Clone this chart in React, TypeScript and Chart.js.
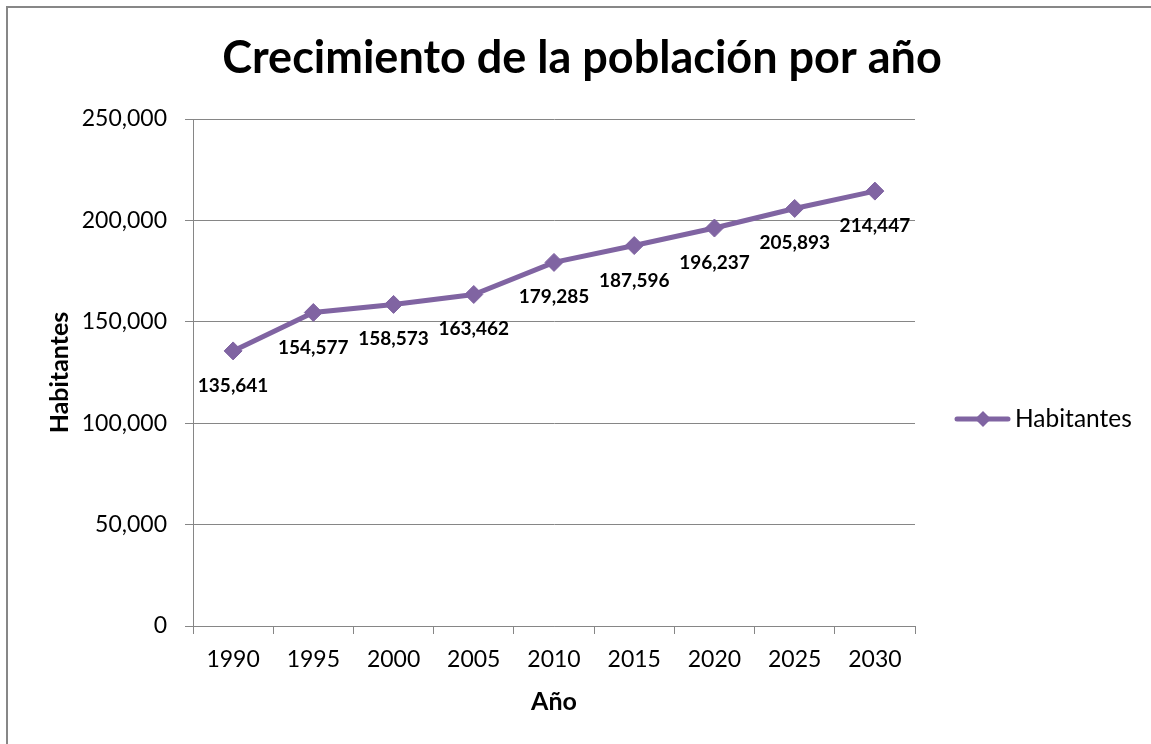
import { useEffect, useRef } from 'react';
import { Chart, registerables } from 'chart.js';

Chart.register(...registerables);

const years = ['1990', '1995', '2000', '2005', '2010', '2015', '2020', '2025', '2030'];
const habitantes = [135641, 154577, 158573, 163462, 179285, 187596, 196237, 205893, 214447];
const yMin = 0;
const yMax = 250000;
const yStep = 50000;

const chartTitle = 'Crecimiento de la población por año';
const xTitle = 'Año';
const yTitle = 'Habitantes';
const seriesName = 'Habitantes';

const PURPLE = '#8064A2';
const GRID = '#868686';
const FONT = 'Lato, Carlito, Calibri, sans-serif';

const fmt = (v: number) => Number(v).toLocaleString('en-US');

const decor = {
  id: 'decor',
  afterDatasetsDraw(chart: any) {
    const ctx = chart.ctx;
    const meta = chart.getDatasetMeta(0);
    ctx.save();
    ctx.font = `bold 19px ${FONT}`;
    ctx.fillStyle = '#000';
    ctx.textAlign = 'center';
    ctx.textBaseline = 'alphabetic';
    meta.data.forEach((pt: any, i: number) => {
      ctx.fillText(fmt(habitantes[i]), pt.x, pt.y + 41);
    });
    ctx.restore();
  },
  afterDraw(chart: any) {
    const ctx = chart.ctx;
    ctx.save();
    // outer border
    ctx.strokeStyle = '#878787';
    ctx.lineWidth = 2;
    ctx.strokeRect(7, 7, 3000, 3000);
    // title
    ctx.fillStyle = '#000';
    ctx.font = `bold 45px ${FONT}`;
    ctx.textAlign = 'center';
    ctx.textBaseline = 'alphabetic';
    ctx.fillText(chartTitle, 582, 73);
    // legend
    const ly = 419;
    ctx.strokeStyle = PURPLE;
    ctx.lineWidth = 5;
    ctx.lineCap = 'round';
    ctx.beginPath();
    ctx.moveTo(957, ly);
    ctx.lineTo(1008, ly);
    ctx.stroke();
    ctx.fillStyle = PURPLE;
    ctx.beginPath();
    ctx.moveTo(983, ly - 8);
    ctx.lineTo(991, ly);
    ctx.lineTo(983, ly + 8);
    ctx.lineTo(975, ly);
    ctx.closePath();
    ctx.fill();
    ctx.fillStyle = '#000';
    ctx.font = `24.5px ${FONT}`;
    ctx.textAlign = 'left';
    ctx.fillText(seriesName, 1015, 427);
    ctx.restore();
  },
};

export default function App() {
  const ref = useRef<HTMLCanvasElement>(null);

  useEffect(() => {
    if (!ref.current) return;
    const chart = new Chart(ref.current, {
      type: 'line',
      data: {
        labels: years,
        datasets: [
          {
            label: seriesName,
            data: habitantes,
            borderColor: PURPLE,
            backgroundColor: PURPLE,
            borderWidth: 5,
            pointStyle: 'rectRot',
            pointRadius: 9,
            pointBackgroundColor: PURPLE,
            pointBorderColor: PURPLE,
            pointBorderWidth: 1,
            tension: 0,
            clip: false as any,
          },
        ],
      },
      options: {
        responsive: false,
        animation: false,
        layout: { padding: { top: 119, right: 236, bottom: 0, left: 0 } },
        plugins: {
          legend: { display: false },
          title: { display: false },
          tooltip: { enabled: false },
        },
        scales: {
          x: {
            type: 'category',
            offset: true,
            grid: {
              offset: true,
              drawOnChartArea: false,
              drawTicks: true,
              tickLength: 8,
              color: GRID,
              lineWidth: 1,
            },
            border: { display: true, color: GRID, width: 1 },
            ticks: {
              color: '#000',
              font: { size: 23, family: FONT },
              padding: 12,
              maxRotation: 0,
              autoSkip: false,
            },
            title: {
              display: true,
              text: xTitle,
              color: '#000',
              font: { size: 25, weight: 'bold', family: FONT },
              padding: { top: 0, bottom: 27 },
            },
            afterFit: (s: any) => {
              s.height = 118;
            },
          },
          y: {
            min: yMin,
            max: yMax,
            grid: {
              color: GRID,
              lineWidth: 1,
              drawTicks: true,
              tickLength: 8,
            },
            border: { display: true, color: GRID, width: 1 },
            ticks: {
              stepSize: yStep,
              color: '#000',
              font: { size: 23, family: FONT },
              padding: 18,
              callback: (v: any) => fmt(v),
            },
            title: {
              display: true,
              text: yTitle,
              color: '#000',
              font: { size: 25, weight: 'bold', family: FONT },
              padding: { top: 45, bottom: 0 },
            },
            afterFit: (s: any) => {
              s.width = 193;
            },
          },
        },
      },
      plugins: [decor],
    });
    return () => chart.destroy();
  }, []);

  return (
    <div style={{ position: 'absolute', left: 0, top: 0, width: 1151, height: 744, background: '#fff' }}>
      <canvas ref={ref} width={1151} height={744} style={{ display: 'block' }} />
    </div>
  );
}
